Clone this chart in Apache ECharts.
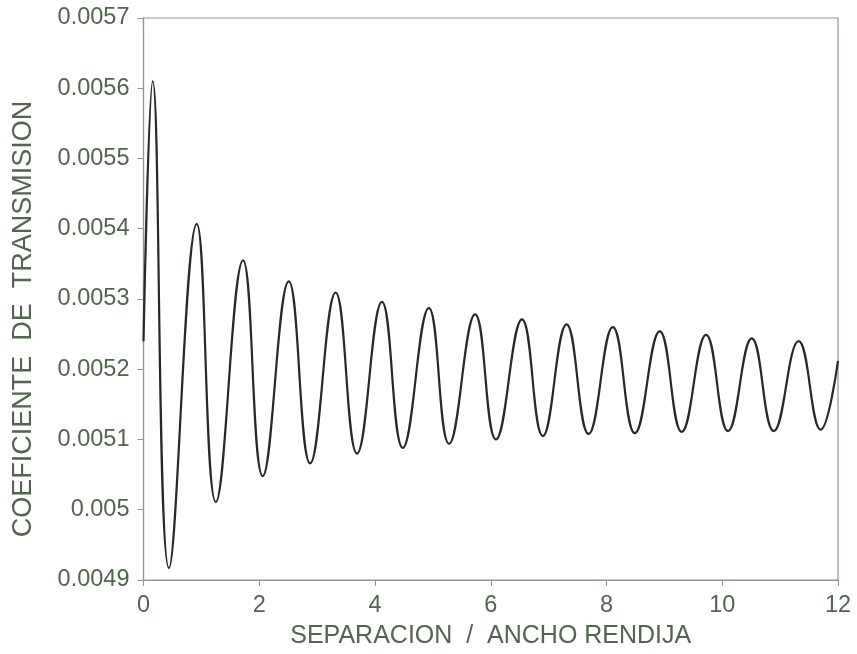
<!DOCTYPE html>
<html>
<head>
<meta charset="utf-8">
<script src="https://cdn.jsdelivr.net/npm/echarts@6/dist/echarts.min.js"></script>
<style>
html,body{margin:0;padding:0;background:#fff;}
#chart{width:857px;height:654px;}
</style>
</head>
<body>
<div id="chart"></div>
<script>
// Separation / slit width (x) at each read point (start, peaks, troughs, end)
const separation = [0, 0.16, 0.44, 0.92, 1.25, 1.72, 2.06, 2.51, 2.88, 3.32, 3.69, 4.12, 4.48, 4.93, 5.28, 5.73, 6.09, 6.54, 6.90, 7.31, 7.69, 8.11, 8.49, 8.92, 9.30, 9.72, 10.10, 10.51, 10.89, 11.32, 11.70, 12.0];
// Transmission coefficient read at those points
const transmission = [0.00524, 0.00561, 0.004917, 0.005407, 0.005011, 0.005355, 0.005048, 0.005325, 0.005066, 0.005309, 0.00508, 0.005296, 0.005088, 0.005287, 0.005094, 0.005278, 0.0051, 0.005271, 0.005105, 0.005264, 0.005108, 0.00526, 0.005109, 0.005254, 0.005111, 0.005249, 0.005112, 0.005244, 0.005112, 0.00524, 0.005114, 0.005212];
const xTitle = 'SEPARACION  /  ANCHO RENDIJA';
const yTitle = 'COEFICIENTE  DE  TRANSMISION';

const lineColor = '#8e9b8a';
const textColor = '#536450';
const font = 'Liberation Sans, Arial, Helvetica, sans-serif';

const chart = echarts.init(document.getElementById('chart'), null, {renderer: 'canvas'});
chart.setOption({
  animation: false,
  backgroundColor: '#ffffff',
  grid: {left: 143.5, right: 19, top: 18, bottom: 69, show: true, borderColor: lineColor, borderWidth: 1.2, backgroundColor: 'transparent'},
  xAxis: {
    type: 'value', min: 0, max: 12, interval: 2,
    name: xTitle, nameLocation: 'middle', nameGap: 44,
    nameTextStyle: {color: textColor, fontSize: 25, fontFamily: font},
    axisLine: {show: true, lineStyle: {color: lineColor, width: 1.2}},
    axisTick: {show: true, length: 6, lineStyle: {color: lineColor}},
    axisLabel: {color: textColor, fontSize: 23.5, fontFamily: font, margin: 14},
    splitLine: {show: false}
  },
  yAxis: {
    type: 'value', min: 0.0049, max: 0.0057, interval: 0.0001,
    name: yTitle, nameLocation: 'middle', nameGap: 106, nameRotate: 90,
    nameTextStyle: {color: textColor, fontSize: 27, fontFamily: font, padding: [0, 40, 0, 0]},
    axisLine: {show: true, lineStyle: {color: lineColor, width: 1.2}},
    axisTick: {show: true, length: 6, lineStyle: {color: lineColor}},
    axisLabel: {color: textColor, fontSize: 23.5, fontFamily: font, margin: 14,
      formatter: v => String(Number(v.toFixed(4)))},
    splitLine: {show: false}
  },
  series: [{
    type: 'line',
    data: separation.map((x, i) => [x, transmission[i]]),
    smooth: 0.45,
    showSymbol: false,
    lineStyle: {color: '#262a26', width: 2.2}
  }]
});
</script>
</body>
</html>
